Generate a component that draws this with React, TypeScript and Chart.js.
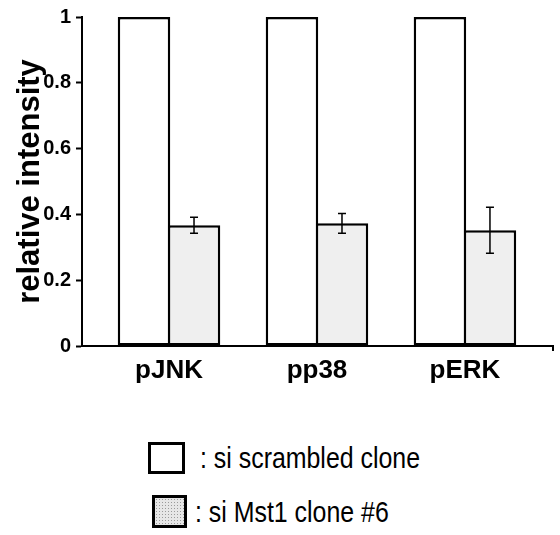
import React, { useEffect, useRef } from "react";
import { Chart, registerables } from "chart.js";

Chart.register(...registerables);

const categories = ["pJNK", "pp38", "pERK"];
const scrambledValues = [1, 1, 1];
const mst1Values = [0.367, 0.373, 0.352];
const mst1Errors = [0.024, 0.03, 0.07];
const yTickValues = [0, 0.2, 0.4, 0.6, 0.8, 1];
const legendLabels = [": si scrambled clone", ": si Mst1 clone #6"];
const yTitle = "relative intensity";

const SANS = "'Liberation Sans', Arial, Helvetica, sans-serif";

const errorBarPlugin = {
  id: "errorBars",
  afterDatasetsDraw(chart: any) {
    const ctx = chart.ctx;
    const meta = chart.getDatasetMeta(1);
    const y = chart.scales.y;
    ctx.save();
    ctx.strokeStyle = "#000";
    ctx.lineWidth = 1.5;
    meta.data.forEach((bar: any, i: number) => {
      const v = mst1Values[i];
      const e = mst1Errors[i];
      const top = y.getPixelForValue(v + e);
      const bot = y.getPixelForValue(v - e);
      const x = bar.x;
      ctx.beginPath();
      ctx.moveTo(x, top);
      ctx.lineTo(x, bot);
      ctx.moveTo(x - 4, top);
      ctx.lineTo(x + 4, top);
      ctx.moveTo(x - 4, bot);
      ctx.lineTo(x + 4, bot);
      ctx.stroke();
    });
    const ca = chart.chartArea;
    ctx.lineWidth = 2;
    ctx.beginPath();
    ctx.moveTo(ca.right, ca.bottom);
    ctx.lineTo(ca.right, ca.bottom + 5);
    ctx.stroke();
    ctx.restore();
  },
};

export default function App() {
  const canvasRef = useRef<HTMLCanvasElement | null>(null);

  useEffect(() => {
    if (!canvasRef.current) return;
    const chart = new Chart(canvasRef.current, {
      type: "bar",
      data: {
        datasets: [
          {
            label: "si scrambled clone",
            data: scrambledValues.map((v, i) => ({ x: i, y: v })),
            backgroundColor: "#ffffff",
            borderColor: "#000000",
            borderWidth: 2.5,
            categoryPercentage: 0.676,
            barPercentage: 1.05,
            borderSkipped: false,
          },
          {
            label: "si Mst1 clone #6",
            data: mst1Values.map((v, i) => ({ x: i, y: v })),
            backgroundColor: "#efefef",
            borderColor: "#000000",
            borderWidth: 2.5,
            categoryPercentage: 0.676,
            barPercentage: 1.05,
            borderSkipped: false,
          },
        ],
      },
      plugins: [errorBarPlugin],
      options: {
        animation: false,
        responsive: false,
        devicePixelRatio: 1,
        layout: { padding: { top: 14, right: 7, left: 0, bottom: 0 } },
        plugins: {
          legend: { display: false },
          tooltip: { enabled: false },
        },
        scales: {
          x: {
            type: "linear",
            min: -0.588,
            max: 2.595,
            offset: false,
            afterBuildTicks: (scale: any) => {
              scale.ticks = categories.map((_, i) => ({ value: i }));
            },
            afterFit: (scale: any) => {
              scale.height = 54;
            },
            grid: { display: false, drawTicks: false, offset: false },
            border: { display: true, color: "#000", width: 2 },
            ticks: {
              autoSkip: false,
              maxRotation: 0,
              padding: 9,
              color: "#000",
              font: { family: SANS, size: 26, weight: "bold" },
              callback: (v: any) => categories[v] ?? "",
            },
          },
          y: {
            min: 0,
            max: 1,
            afterBuildTicks: (scale: any) => {
              scale.ticks = yTickValues.map((v) => ({ value: v }));
            },
            afterFit: (scale: any) => {
              scale.width = 82;
            },
            grid: {
              drawOnChartArea: false,
              drawTicks: true,
              tickLength: 6,
              tickColor: "#000",
              tickWidth: 2,
            },
            border: { display: true, color: "#000", width: 2 },
            ticks: {
              padding: 5,
              color: "#000",
              font: { family: SANS, size: 20, weight: "bold" },
              callback: (v: any) => String(v),
            },
            title: {
              display: true,
              text: yTitle,
              color: "#000",
              padding: { top: 12, bottom: 0 },
              font: { family: SANS, size: 31, weight: "bold" },
            },
          },
        },
      } as any,
    });
    return () => chart.destroy();
  }, []);

  const textStyle: React.CSSProperties = {
    position: "absolute",
    fontFamily: SANS,
    fontSize: 30,
    lineHeight: "30px",
    color: "#000",
    whiteSpace: "nowrap",
    transform: "scaleX(0.83)",
    transformOrigin: "left center",
  };

  return (
    <div
      style={{
        position: "fixed",
        left: 0,
        top: 0,
        width: 560,
        height: 535,
        background: "#fff",
        overflow: "hidden",
      }}
    >
      <canvas ref={canvasRef} width={560} height={400} style={{ display: "block" }} />
      <div
        style={{
          position: "absolute",
          left: 148,
          top: 442,
          width: 31,
          height: 26,
          border: "3px solid #000",
          background: "#fff",
        }}
      />
      <div style={{ ...textStyle, left: 200, top: 443 }}>{legendLabels[0]}</div>
      <div
        style={{
          position: "absolute",
          left: 152,
          top: 495,
          width: 29,
          height: 27,
          border: "3px solid #000",
          backgroundColor: "#e6e6e6",
          backgroundImage: "radial-gradient(#9a9a9a 0.7px, transparent 0.9px)",
          backgroundSize: "3px 3px",
        }}
      />
      <div style={{ ...textStyle, left: 195, top: 497 }}>{legendLabels[1]}</div>
    </div>
  );
}
